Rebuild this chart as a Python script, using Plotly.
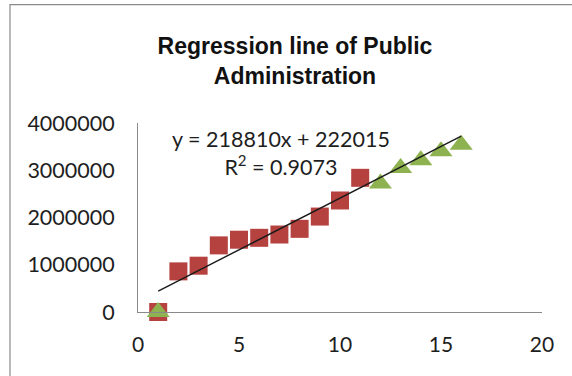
import plotly.graph_objects as go

# data
red_x = [1, 2, 3, 4, 5, 6, 7, 8, 9, 10, 11]
red_y = [0, 860000, 980000, 1410000, 1530000, 1570000, 1640000, 1760000, 2020000, 2360000, 2840000]
green_x = [1, 12, 13, 14, 15, 16]
green_y = [0, 2720000, 3050000, 3210000, 3400000, 3540000]
slope = 218810
intercept = 222015
r_squared = 0.9073
trend_x = [1, 16]
trend_y = [slope * v + intercept for v in trend_x]
x_ticks = [0, 5, 10, 15, 20]
y_ticks = [0, 1000000, 2000000, 3000000, 4000000]

FONT = "Lato"
TXT = "#1e1e1e"

fig = go.Figure()
fig.add_trace(go.Scatter(x=red_x, y=red_y, mode="markers", cliponaxis=False,
                         marker=dict(symbol="square", size=18, color="#B5423F", line=dict(width=0)),
                         showlegend=False))
fig.add_trace(go.Scatter(x=green_x, y=green_y, mode="markers", cliponaxis=False,
                         marker=dict(symbol="triangle-up", size=20, color="#8DB24F", line=dict(width=0)),
                         showlegend=False))
fig.add_trace(go.Scatter(x=trend_x, y=trend_y, mode="lines", cliponaxis=False,
                         line=dict(color="#1a1a1a", width=1.4), showlegend=False))

fig.update_layout(
    width=572, height=376,
    margin=dict(l=138, r=30, t=123, b=64),
    paper_bgcolor="white", plot_bgcolor="white",
    font=dict(family=FONT, size=21, color=TXT),
    title=dict(text="<b>Regression line of Public<br>Administration</b>",
               x=295 / 572, xanchor="center", xref="container",
               y=1 - 54 / 376, yanchor="middle", yref="container",
               font=dict(family="Liberation Sans", size=23, color="#111111")),
    xaxis=dict(range=[0, 20], tickvals=x_ticks, ticktext=[str(v) for v in x_ticks],
               showgrid=False, zeroline=False, showline=True, linecolor="#8a8a8a", linewidth=1,
               ticks="", ticklabelstandoff=14, tickfont=dict(size=21, color=TXT)),
    yaxis=dict(range=[0, 4000000], tickvals=y_ticks, ticktext=[str(v) for v in y_ticks],
               showgrid=False, zeroline=False, showline=True, linecolor="#8a8a8a", linewidth=1,
               ticks="", ticklabelstandoff=18, tickfont=dict(size=21.5, color=TXT)),
    annotations=[dict(text=f"y = {slope}x + {intercept}<br>R<sup>2</sup> = {r_squared}",
                      xref="paper", yref="paper", x=(281 - 138) / 404, y=(312.3 - 153.5) / 189,
                      xanchor="center", yanchor="middle", showarrow=False, align="center",
                      font=dict(family=FONT, size=21.5, color=TXT))],
    shapes=[dict(type="rect", xref="paper", yref="paper",
                 x0=(10 - 138) / 404, x1=(585 - 138) / 404,
                 y0=(312.3 - 5) / 189, y1=(312.3 - 385) / 189,
                 line=dict(color="#8a8a8a", width=1.2), fillcolor="rgba(0,0,0,0)", layer="below")],
)

fig.write_html("out.html")
